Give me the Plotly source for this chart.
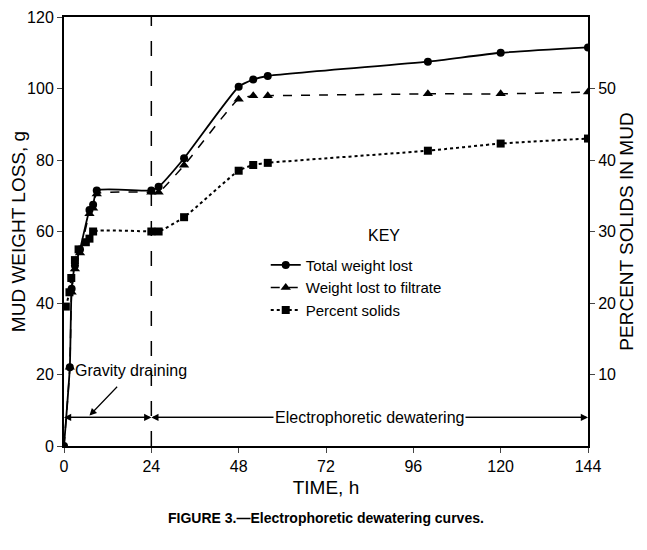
import plotly.graph_objects as go

t_total = [0, 1.6, 2.1, 3, 4.4, 7, 8, 9, 24, 26, 33, 48, 52, 56, 100, 120, 144]
w_total = [0, 22, 44, 50.5, 55, 66, 67.5, 71.5, 71.5, 72.5, 80.5, 100.5, 102.5, 103.5, 107.5, 110, 111.5]
t_filt = [0, 1.6, 2.1, 3, 4.4, 7, 8, 9, 24, 26, 33, 48, 52, 56, 100, 120, 144]
w_filt = [0, 22, 43, 49.5, 54, 65, 66.5, 70.5, 71, 71, 78.5, 97, 98, 98, 98.5, 98.5, 99]
t_pct = [0.5, 1.5, 2, 3, 4, 6, 7, 8, 24, 26, 33, 48, 52, 56, 100, 120, 144]
p_pct = [19.5, 21.5, 23.5, 26, 27.5, 28.5, 29, 30, 30, 30, 32, 38.5, 39.3, 39.6, 41.3, 42.3, 43]

F = "Liberation Sans"
fig = go.Figure()
fig.add_trace(go.Scatter(x=t_total, y=w_total, mode="lines+markers", name="Total weight lost",
    line=dict(color="black", width=1.8, shape="spline", smoothing=0.5), marker=dict(symbol="circle", size=8, color="black")))
fig.add_trace(go.Scatter(x=t_filt, y=w_filt, mode="lines+markers", name="Weight lost to filtrate",
    line=dict(color="black", width=1.5, dash="dash", shape="spline", smoothing=0.5), marker=dict(symbol="triangle-up", size=9, color="black")))
fig.add_trace(go.Scatter(x=t_pct, y=p_pct, mode="lines+markers", name="Percent solids", yaxis="y2",
    line=dict(color="black", width=2, dash="dot", shape="spline", smoothing=0.5), marker=dict(symbol="square", size=8, color="black")))

fig.add_shape(type="line", x0=24, x1=24, y0=0, y1=120, line=dict(color="black", width=1.5, dash="longdash"))
A = dict(xref="x", yref="y", axref="x", ayref="y", text="", showarrow=True, arrowhead=2, arrowsize=1.2, arrowwidth=1.2, arrowcolor="black")
fig.add_annotation(x=0, y=8, ax=24, ay=8, **A)
fig.add_annotation(x=24, y=8, ax=0, ay=8, **A)
fig.add_annotation(x=24, y=8, ax=144, ay=8, **A)
fig.add_annotation(x=144, y=8, ax=24, ay=8, **A)
fig.add_annotation(x=7, y=8.5, ax=15, ay=17, **A)
fig.add_annotation(x=18.5, y=21, text="Gravity draining", showarrow=False, font=dict(size=16, family=F, color="black"))
fig.add_annotation(x=84, y=8, text="Electrophoretic dewatering", showarrow=False, bgcolor="white", font=dict(size=16, family=F, color="black"))
fig.add_annotation(x=88, y=59, text="KEY", showarrow=False, font=dict(size=16, family=F, color="black"))
fig.add_annotation(xref="paper", yref="paper", x=0.5, y=-0.19, text="<b>FIGURE 3.—Electrophoretic dewatering curves.</b>",
                   showarrow=False, font=dict(size=14, family=F, color="black"))

fig.update_layout(
    width=639, height=547, plot_bgcolor="white", paper_bgcolor="white",
    margin=dict(l=56, r=59, t=9, b=109),
    font=dict(family=F, size=16, color="black"),
    legend=dict(x=0.385, y=0.46, xanchor="left", yanchor="top", bgcolor="rgba(0,0,0,0)", font=dict(size=15), tracegroupgap=8),
    xaxis=dict(range=[0, 144], tickvals=[0, 24, 48, 72, 96, 120, 144], ticks="outside", showgrid=False, zeroline=False, automargin=False,
               showline=True, linecolor="black", linewidth=2, mirror=True, title=dict(text="TIME, h", standoff=6)),
    yaxis=dict(range=[0, 120], tickvals=[0, 20, 40, 60, 80, 100, 120], ticks="outside", showgrid=False, zeroline=False, automargin=False,
               showline=True, linecolor="black", linewidth=2, title=dict(text="MUD WEIGHT LOSS, g", standoff=2)),
    yaxis2=dict(range=[0, 60], tickvals=[10, 20, 30, 40, 50], overlaying="y", side="right", ticks="outside", showgrid=False, automargin=False,
                zeroline=False, showline=True, linecolor="black", linewidth=2, title=dict(text="PERCENT SOLIDS IN MUD", standoff=2)),
)
fig.write_html("out.html")
